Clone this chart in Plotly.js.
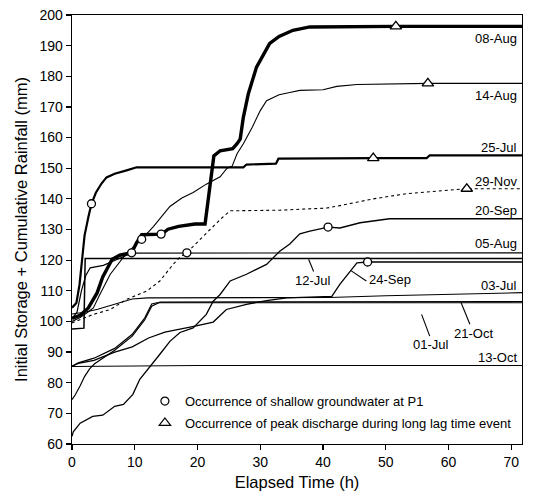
<!DOCTYPE html>
<html>
<head>
<meta charset="utf-8">
<script src="https://cdn.plot.ly/plotly-3.0.1.min.js"></script>
<style>html,body{margin:0;padding:0;background:#fff;}#chart{width:533px;height:497px;}</style>
</head>
<body>
<div id="chart"></div>
<script>
// ---- data (elapsed time in h, initial storage + cumulative rainfall in mm) ----
const aug08_t  = [0,0.5,1.3,2.6,4,4.9,6.4,7.6,9.5,10.3,11.1,14.3,15.3,17,19.6,21.2,21.7,22.2,22.6,23.6,25.6,26.3,26.8,27.3,28.1,29.4,31.5,33,35.2,37.9,51.6,72];
const aug08_mm = [101,101.4,102,104.4,109.3,114.5,120.3,121.6,122.4,125.7,128.3,128.5,130.1,131,131.8,131.8,140,149.4,154,155.7,156.4,158,159.5,166.6,174.3,183,190.7,193,195,196.1,196.3,196.3];

const aug14_t  = [0,1.3,2.5,3.4,4.5,6.1,8.7,11.1,13,15.6,17.5,19.3,21.4,22,23.6,24.7,25.5,26.3,27.3,28.7,30,31,33,34.7,36.3,40,42.2,45.4,56.7,72];
const aug14_mm = [100,101.3,103,104.4,109,115.4,122.3,126.8,131,137.5,140.3,142.1,144.8,145.5,147.2,150,150.6,154.7,158,163.3,168.8,172,174,174.7,175.4,175.6,176.7,177.3,177.7,177.7];

const jul25_t  = [0,0.7,1.2,1.6,2,2.6,3.1,3.8,4.7,5.5,6.8,8.7,10.3,27.3,27.8,32.5,32.9,48,56.5,57,72];
const jul25_mm = [104.5,106,112,120,128,134,138.4,142,145,147,148.2,149.3,150.3,150.3,151.2,151.5,153.1,153.3,153.3,154.2,154.2];

const nov29_t  = [0,3.4,6.1,8.7,11.9,14,16.1,17.2,18.3,20,22,24,25.2,33,40.6,42.7,48,53.3,62.9,72];
const nov29_mm = [99.5,102.3,103.9,107.2,109.9,113.2,118.6,121,122.4,126,130,134,136.1,136.3,137,137.8,140,141.7,143.3,143.3];

const sep20_t  = [0,0.2,1.3,3.3,4.9,6.8,8.2,9.7,10.8,12.4,14,15.6,17.2,19.3,21.4,22.5,23.6,25.2,27.8,31,33.1,34.7,36.3,37.9,40.8,42.7,45.9,50.6,72];
const sep20_mm = [62.5,64,66.8,69,69.4,72.3,72.9,76.2,81.1,85.4,89.3,93.5,96.4,97.9,102.3,106.6,108.8,113.2,115.4,118.6,122.9,125.3,128.6,129.5,130.8,130.5,132.2,133.5,133.5];

const aug05_t  = [0,0.8,1.5,2.2,2.9,5,7.6,9.5,72];
const aug05_mm = [101,103,110,115,117.5,118.3,120.6,122.3,122.4];

const jul12_t  = [0,1.9,2.1,72];
const jul12_mm = [97.5,97.8,120.5,120.5];

const sep24_t  = [0,1,3.5,6.8,9.6,12.2,14.8,17.5,19.6,22.5,24.6,27.8,31,34.2,41.4,42.7,44.3,45.4,47.1,72];
const sep24_mm = [85.4,86.3,87.3,90,91.7,94.6,96.5,97.5,98.5,99.8,103.9,105.6,106.8,107.7,108.2,112.2,116.5,119.1,119.4,119.4];

const jul03_t  = [0,2,4.1,6.8,9.6,12,41,50,60,72];
const jul03_mm = [102.4,103,104,105.6,107.3,107.7,107.8,108.4,108.9,109.4];

const jul01_t  = [0,0.5,1.3,2,2.8,3.3,3.6,6.8,9.6,11.6,12.7,14,72];
const jul01_mm = [74.5,76,79,82,84.5,85.4,86.2,90.6,95.2,100.6,105,106.3,106.5];

const oct21_t  = [0,1,3.5,6.8,9.6,11.6,12.7,13.5,72];
const oct21_mm = [85.4,86.5,88,91.2,95.8,101.2,105.7,106.1,106.1];

const oct13_t  = [0,19,20,72];
const oct13_mm = [85.3,85.4,85.6,85.6];

// event markers
const circle_t  = [3.1,11.1,14.2,9.5,18.3,40.8,47.1];
const circle_mm = [138.4,126.8,128.5,122.4,122.4,130.8,119.4];
const triangle_t  = [51.6,56.7,48,62.9];
const triangle_mm = [196.3,177.7,153.3,143.3];

// series labels
const labelText = ["08-Aug","14-Aug","25-Jul","29-Nov","20-Sep","05-Aug","03-Jul","13-Oct"];
const labelMM   = [192.4,173.7,156.7,145.6,136.1,125.3,111.6,88.3];

const calloutText = ["12-Jul","24-Sep","21-Oct","01-Jul"];
const calloutT    = [38.4,50.6,64,57.2];
const calloutMM   = [113.4,113.8,96.1,92.6];
const pointerT0 = [37.7,44.5,62.0,55.7];
const pointerM0 = [120.3,116.5,106.1,102.3];
const pointerT1 = [38.5,46.9,63.4,57.0];
const pointerM1 = [116.3,113.2,99.1,95.2];

// ---- traces ----
function line(t, mm, w, dash) {
  return {x: t, y: mm, type: 'scatter', mode: 'lines', showlegend: false, hoverinfo: 'skip',
          line: {color: '#000', width: w, dash: dash || 'solid', shape: 'linear'}};
}
const traces = [
  line(sep20_t, sep20_mm, 1.3),
  line(oct13_t, oct13_mm, 1.1),
  line(jul01_t, jul01_mm, 1.2),
  line(oct21_t, oct21_mm, 1.2),
  line(sep24_t, sep24_mm, 1.3),
  line(jul03_t, jul03_mm, 1.1),
  line(jul12_t, jul12_mm, 1.5),
  line(aug05_t, aug05_mm, 1.2),
  line(nov29_t, nov29_mm, 1.1, 'dot'),
  line(aug14_t, aug14_mm, 1.1),
  line(jul25_t, jul25_mm, 2.2),
  line(aug08_t, aug08_mm, 3.4),
  {x: circle_t, y: circle_mm, type: 'scatter', mode: 'markers', showlegend: false, hoverinfo: 'skip',
   marker: {symbol: 'circle', size: 8, color: '#fff', line: {width: 1.3, color: '#000'}}},
  {x: triangle_t, y: triangle_mm, type: 'scatter', mode: 'markers', showlegend: false, hoverinfo: 'skip',
   marker: {symbol: 'triangle-up', size: 10, color: '#fff', line: {width: 1.3, color: '#000'}}},
  // legend entries
  {x: [null], y: [null], type: 'scatter', mode: 'markers', name: 'Occurrence of shallow groundwater at P1',
   legendgroup: 'a', marker: {symbol: 'circle', size: 8, color: '#fff', line: {width: 1.2, color: '#000'}}},
  {x: [null], y: [null], type: 'scatter', mode: 'markers', name: 'Occurrence of peak discharge during long lag time event',
   legendgroup: 'b', marker: {symbol: 'triangle-up', size: 10, color: '#fff', line: {width: 1.2, color: '#000'}}}
];

const font = 'Liberation Sans, Arial, sans-serif';
const annotations = [];
for (let i = 0; i < labelText.length; i++) {
  annotations.push({x: 71.3, y: labelMM[i], xref: 'x', yref: 'y', text: labelText[i], showarrow: false,
    xanchor: 'right', yanchor: 'middle', font: {family: font, size: 13, color: '#000'}});
}
for (let i = 0; i < calloutText.length; i++) {
  annotations.push({x: calloutT[i], y: calloutMM[i], xref: 'x', yref: 'y', text: calloutText[i], showarrow: false,
    xanchor: 'center', yanchor: 'middle', font: {family: font, size: 13, color: '#000'}});
}
const shapes = [];
for (let i = 0; i < pointerT0.length; i++) {
  shapes.push({type: 'line', xref: 'x', yref: 'y', x0: pointerT0[i], y0: pointerM0[i], x1: pointerT1[i], y1: pointerM1[i],
    line: {color: '#000', width: 1.1}});
}

const layout = {
  width: 533, height: 497,
  margin: {l: 72, r: 11, t: 15, b: 53},
  paper_bgcolor: '#fff', plot_bgcolor: '#fff',
  font: {family: font, color: '#000'},
  xaxis: {range: [0, 71.7], tickvals: [0,10,20,30,40,50,60,70], showgrid: false, zeroline: false,
    showline: true, linecolor: '#000', linewidth: 1.3, mirror: true, ticks: 'outside', ticklen: 5, tickwidth: 1.2,
    tickcolor: '#000', tickfont: {family: font, size: 14, color: '#000'},
    title: {text: 'Elapsed Time (h)', font: {family: font, size: 16.5, color: '#000'}, standoff: 7}},
  yaxis: {range: [60, 200], dtick: 10, tick0: 60, showgrid: false, zeroline: false,
    showline: true, linecolor: '#000', linewidth: 1.3, mirror: true, ticks: 'outside', ticklen: 5, tickwidth: 1.2,
    tickcolor: '#000', tickfont: {family: font, size: 14, color: '#000'},
    title: {text: 'Initial Storage + Cumulative Rainfall (mm)', font: {family: font, size: 16.5, color: '#000'}, standoff: 7}},
  showlegend: true,
  legend: {x: 0.162, y: 0.135, xanchor: 'left', yanchor: 'top', bgcolor: 'rgba(0,0,0,0)', borderwidth: 0,
    font: {family: font, size: 13, color: '#000'}, tracegroupgap: 2, itemwidth: 30},
  annotations: annotations,
  shapes: shapes
};

Plotly.newPlot('chart', traces, layout, {displayModeBar: false, staticPlot: true});
</script>
</body>
</html>
